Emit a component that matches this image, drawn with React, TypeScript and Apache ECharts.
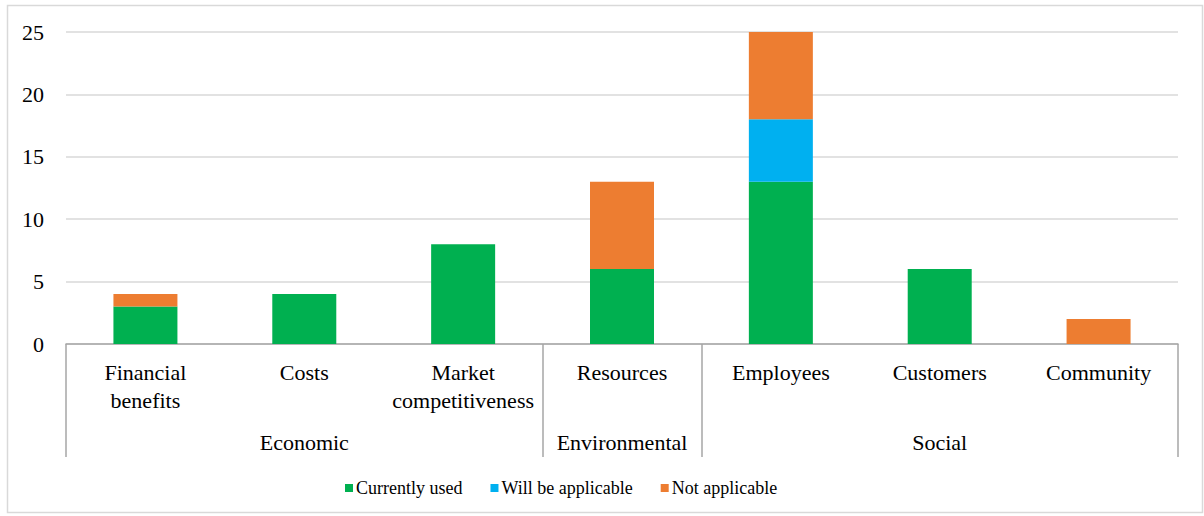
import React, { useEffect, useRef } from "react";
import * as echarts from "echarts";

const categories = [
  "Financial\nbenefits",
  "Costs",
  "Market\ncompetitiveness",
  "Resources",
  "Employees",
  "Customers",
  "Community",
];
const groupLabels = ["", "Economic", "", "Environmental", "", "Social", ""];
const groupBoundaries = [0, 3, 4];
const currentlyUsed = [3, 4, 8, 6, 13, 6, null];
const willBeApplicable = [null, null, null, null, 5, null, null];
const notApplicable = [1, null, null, 7, 7, null, 2];

const FONT = "Times New Roman, Liberation Serif, DejaVu Serif, serif";

export default function App() {
  const ref = useRef<HTMLDivElement>(null);
  useEffect(() => {
    if (!ref.current) return;
    const chart = echarts.init(ref.current, null, { renderer: "svg" });
    chart.setOption({
      animation: false,
      textStyle: { fontFamily: FONT },
      graphic: [
        {
          type: "rect",
          shape: { x: 7.5, y: 5.5, width: 1195, height: 507 },
          style: { fill: "none", stroke: "#d9d9d9", lineWidth: 1.5 },
          silent: true,
        },
      ],
      grid: { left: 66, right: 26, top: 32, bottom: 172, containLabel: false },
      legend: {
        left: 340,
        top: 474,
        itemWidth: 8,
        itemHeight: 8,
        itemGap: 28,
        icon: "rect",
        textStyle: { fontFamily: FONT, fontSize: 18, color: "#000", padding: [0, 0, 0, -2] },
        data: ["Currently used", "Will be applicable", "Not applicable"],
      },
      xAxis: [
        {
          type: "category",
          data: categories,
          position: "bottom",
          axisLine: { show: true, lineStyle: { color: "#a6a6a6", width: 1.5 } },
          axisTick: {
            show: true,
            length: 113,
            interval: (index: number) => groupBoundaries.includes(index),
            lineStyle: { color: "#a6a6a6", width: 1.5 },
          },
          axisLabel: {
            interval: 0,
            margin: 14,
            fontFamily: FONT,
            fontSize: 22,
            lineHeight: 28,
            color: "#000",
            verticalAlign: "top",
          },
        },
        {
          type: "category",
          data: groupLabels,
          position: "bottom",
          gridIndex: 0,
          axisLine: { show: false },
          axisTick: { show: false },
          axisLabel: {
            interval: 0,
            margin: 85,
            fontFamily: FONT,
            fontSize: 22,
            lineHeight: 27,
            color: "#000",
            verticalAlign: "top",
          },
        },
      ],
      yAxis: {
        type: "value",
        min: 0,
        max: 25,
        interval: 5,
        axisLine: { show: false },
        axisTick: { show: false },
        splitLine: { lineStyle: { color: "#d9d9d9", width: 1.5 } },
        axisLabel: { fontFamily: FONT, fontSize: 22, color: "#000", margin: 22 },
      },
      series: [
        {
          name: "Currently used",
          type: "bar",
          stack: "a",
          barWidth: 64,
          data: currentlyUsed,
          itemStyle: { color: "#00b050" },
        },
        {
          name: "Will be applicable",
          type: "bar",
          stack: "a",
          barWidth: 64,
          data: willBeApplicable,
          itemStyle: { color: "#00b0f0" },
        },
        {
          name: "Not applicable",
          type: "bar",
          stack: "a",
          barWidth: 64,
          data: notApplicable,
          itemStyle: { color: "#ed7d31" },
        },
      ],
    });
    return () => chart.dispose();
  }, []);
  return (
    <div
      ref={ref}
      style={{ position: "absolute", left: 0, top: 0, width: 1204, height: 516 }}
    />
  );
}
